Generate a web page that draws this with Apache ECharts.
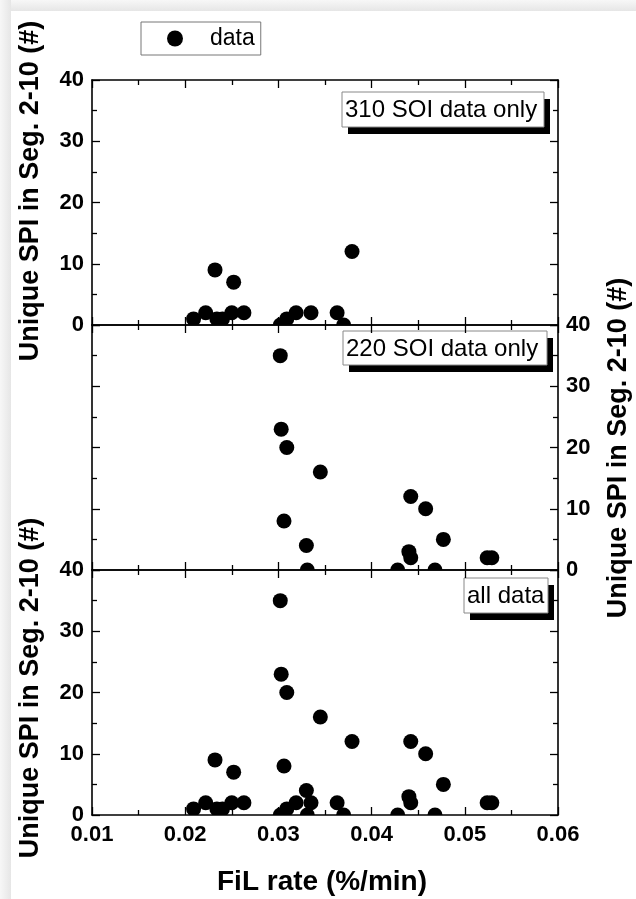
<!DOCTYPE html>
<html><head><meta charset="utf-8">
<script src="https://cdn.jsdelivr.net/npm/echarts@6/dist/echarts.min.js"></script>
<style>
html,body{margin:0;padding:0;background:#fff;}
#bandTop{position:absolute;left:0;top:0;width:636px;height:11px;background:linear-gradient(#f7f7f7,#e6e6e6);}
#bandLeft{position:absolute;left:0;top:0;width:11px;height:899px;background:linear-gradient(to right,#f7f7f7,#e6e6e6);}
#chart{position:absolute;left:0;top:0;width:636px;height:899px;}
</style></head>
<body><div id="bandTop"></div><div id="bandLeft"></div><div id="chart"></div>
<script>
// ---- data ----
const soi310X = [0.0209,0.0222,0.0232,0.0234,0.0240,0.0252,0.0250,0.0263,0.0302,0.0309,0.0319,0.0335,0.0363,0.0370,0.0379];
const soi310Y = [1,2,9,1,1,7,2,2,0,1,2,2,2,0,12];
const soi220X = [0.0302,0.0303,0.0309,0.0345,0.0306,0.0330,0.0331,0.0442,0.0458,0.0477,0.0440,0.0442,0.0428,0.0468,0.0524,0.0529];
const soi220Y = [35,23,20,16,8,4,0,12,10,5,3,2,0,0,2,2];
const allX = soi310X.concat(soi220X);
const allY = soi310Y.concat(soi220Y);
const panelLabels = ['310 SOI data only','220 SOI data only','all data'];
const xTickValues = [0.01,0.02,0.03,0.04,0.05,0.06];
const yTickValues = [0,10,20,30,40];
const xTitle = 'FiL rate (%/min)';
const yTitle = 'Unique SPI in Seg. 2-10 (#)';
const legendName = 'data';

// ---- layout ----
const FONT = '"Liberation Sans", Arial, sans-serif';
const gridLeft = 92, gridWidth = 466, panelH = 245, tops = [80, 325, 570];
const xMin = xTickValues[0], xMax = xTickValues[xTickValues.length-1], xInt = xTickValues[1]-xTickValues[0];
const yMin = yTickValues[0], yMax = yTickValues[yTickValues.length-1], yInt = yTickValues[1]-yTickValues[0];

const lineSt = {color:'#000', width:1.6};
const tickSt = {color:'#000', width:1.3};
const labelSt = {color:'#000', fontSize:22, fontWeight:'bold', fontFamily:FONT};

function xAxisDef(gi, pos, showLabel){
  return {type:'value', gridIndex:gi, position:pos, min:xMin, max:xMax, interval:xInt,
    axisLine:{show:true, onZero:false, lineStyle:lineSt},
    axisTick:{show:true, inside:true, length:8, lineStyle:tickSt},
    minorTick:{show:true, splitNumber:2, length:5, lineStyle:tickSt},
    splitLine:{show:false}, minorSplitLine:{show:false},
    axisLabel:Object.assign({show:showLabel, margin:9, formatter:v=>v.toFixed(2), showMinLabel:true, showMaxLabel:true, hideOverlap:false}, labelSt)
  };
}
function yAxisDef(gi, pos, showLabel){
  return {type:'value', gridIndex:gi, position:pos, min:yMin, max:yMax, interval:yInt,
    axisLine:{show:true, onZero:false, lineStyle:lineSt},
    axisTick:{show:true, inside:true, length:8, lineStyle:tickSt},
    minorTick:{show:true, splitNumber:2, length:5, lineStyle:tickSt},
    splitLine:{show:false}, minorSplitLine:{show:false},
    axisLabel:Object.assign({show:showLabel, margin:8, showMinLabel:true, showMaxLabel:true, hideOverlap:false}, labelSt)
  };
}
function seriesDef(gi, xs, ys){
  return {type:'custom', name:legendName, xAxisIndex:gi*2, yAxisIndex:gi*2, clip:true,
    itemStyle:{color:'#000'},
    data: xs.map((x,i)=>[x, ys[i]]), encode:{x:0, y:1},
    renderItem:(params, api)=>{
      const p = api.coord([api.value(0), api.value(1)]);
      return {type:'circle', shape:{cx:p[0], cy:p[1], r:7.5}, style:{fill:'#000'}};
    }
  };
}
function boxDef(x, y, w, h, text){
  return {type:'group', children:[
    {type:'rect', shape:{x:x+6, y:y+7, width:w, height:h}, style:{fill:'#000'}},
    {type:'rect', shape:{x:x, y:y, width:w, height:h}, style:{fill:'#fff', stroke:'#888', lineWidth:1}},
    {type:'text', x:x+3, y:y+h/2+1, style:{text:text, font:'24px '+FONT, fill:'#000', verticalAlign:'middle', align:'left'}}
  ]};
}
function vTitle(cx, cy){
  return {type:'text', x:cx, y:cy, rotation:Math.PI/2,
    style:{text:yTitle, font:'bold 27px '+FONT, fill:'#000', align:'center', verticalAlign:'middle'}};
}

const chart = echarts.init(document.getElementById('chart'), null, {renderer:'canvas'});
chart.setOption({
  backgroundColor:'transparent',
  color:['#000'],
  animation:false,
  grid: tops.map(t=>({left:gridLeft, top:t, width:gridWidth, height:panelH, containLabel:false})),
  xAxis:[
    xAxisDef(0,'bottom',false), xAxisDef(0,'top',false),
    xAxisDef(1,'bottom',false), xAxisDef(1,'top',false),
    xAxisDef(2,'bottom',true),  xAxisDef(2,'top',false)
  ],
  yAxis:[
    yAxisDef(0,'left',true),  yAxisDef(0,'right',false),
    yAxisDef(1,'left',false), yAxisDef(1,'right',true),
    yAxisDef(2,'left',true),  yAxisDef(2,'right',false)
  ],
  legend:{left:141, top:22, data:[{name:legendName, icon:'circle', itemStyle:{color:'#000'}}], itemWidth:16, itemHeight:16,
    borderColor:'#777', borderWidth:1, padding:[5,6,5,26], selectedMode:false,
    textStyle:{fontSize:23, color:'#000', fontFamily:FONT, padding:[0,0,0,22]}},
  series:[seriesDef(0, soi310X, soi310Y), seriesDef(1, soi220X, soi220Y), seriesDef(2, allX, allY)],
  graphic:[
    boxDef(342, 92, 202, 35, panelLabels[0]),
    boxDef(343, 331, 204, 34, panelLabels[1]),
    boxDef(464, 578, 84, 35, panelLabels[2]),
    vTitle(31, 191), vTitle(31, 688), vTitle(619, 448),
    {type:'text', x:322, y:882, style:{text:xTitle, font:'bold 28px '+FONT, fill:'#000', align:'center', verticalAlign:'middle'}}
  ]
});
</script></body></html>
